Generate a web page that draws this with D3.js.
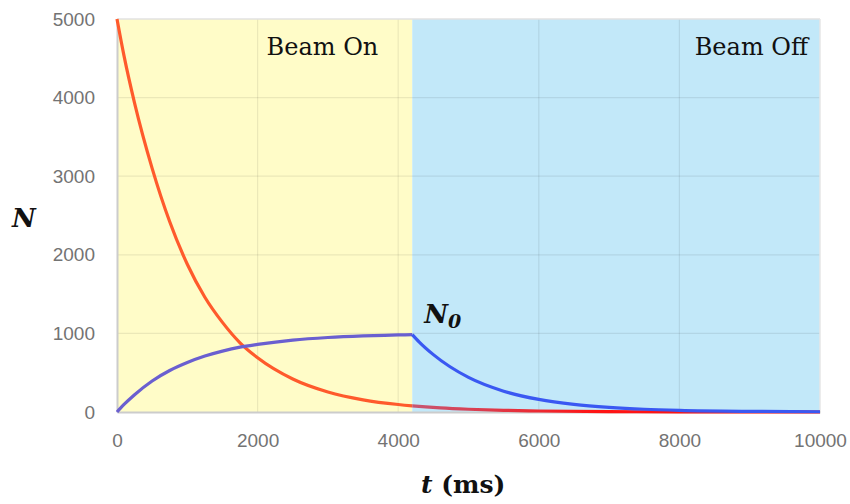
<!DOCTYPE html>
<html>
<head>
    <title>Beam On / Beam Off</title>
    <script src="https://d3js.org/d3.v7.min.js"></script>
    <style>
        body, html {
            margin: 0;
            padding: 0;
            background: #fff;
        }
        .tick text {
            font-family: 'Liberation Sans', Arial, sans-serif;
            font-size: 19px;
            fill: #737373;
        }
        .region-label {
            font-family: 'DejaVu Serif', serif;
            font-size: 24px;
            fill: #111;
        }
        .math {
            font-family: 'DejaVu Serif', serif;
            font-weight: bold;
            fill: #111;
        }
    </style>
</head>
<body>
<script>
    // values
    const xTicks = [0, 2000, 4000, 6000, 8000, 10000];
    const yTicks = [0, 1000, 2000, 3000, 4000, 5000];
    const beamOffAt = 4200;

    // red curve (starts at 5000, decays all the way)
    const redT = [0, 100, 250, 500, 750, 1000, 1250, 1500, 1750, 2000, 2500, 3000, 3500, 4000, 4200,
                  4600, 5000, 5500, 6000, 7000, 8000, 9000, 10000];
    const redN = [5000, 4530, 3930, 3100, 2420, 1880, 1460, 1140, 880, 690, 420, 255, 155, 95, 78,
                  52, 35, 21, 13, 5, 2, 1, 0];

    // blue curve while the beam is on
    const blueOnT = [0, 50, 100, 250, 500, 750, 1000, 1250, 1500, 1750, 2000, 2500, 3000, 3500, 4000, 4200];
    const blueOnN = [0, 50, 96, 220, 395, 528, 630, 712, 775, 825, 860, 915, 948, 968, 980, 985];

    // blue curve after the beam is off
    const blueOffT = [4200, 4300, 4500, 5000, 5500, 6000, 6500, 7000, 7500, 8000, 9000, 10000];
    const blueOffN = [985, 890, 730, 440, 265, 160, 97, 59, 35, 21, 8, 3];

    const width = 850, height = 504;
    const margin = {top: 19, right: 30, bottom: 92, left: 117};

    const x = d3.scaleLinear().domain([0, 10000]).range([margin.left, width - margin.right]);
    const y = d3.scaleLinear().domain([0, 5000]).range([height - margin.bottom, margin.top]);

    const svg = d3.create("svg")
        .attr("width", width)
        .attr("height", height)
        .attr("viewBox", [0, 0, width, height]);

    const defs = svg.append("defs");
    defs.append("clipPath").attr("id", "clip-on")
        .append("rect")
        .attr("x", x(0) - 5).attr("y", 0)
        .attr("width", x(beamOffAt) - x(0) + 5).attr("height", height);
    defs.append("clipPath").attr("id", "clip-off")
        .append("rect")
        .attr("x", x(beamOffAt)).attr("y", 0)
        .attr("width", x(10000) - x(beamOffAt) + 5).attr("height", height);

    // red fades from a dull red into a bright red once the beam is off
    const grad = defs.append("linearGradient")
        .attr("id", "red-off")
        .attr("gradientUnits", "userSpaceOnUse")
        .attr("x1", x(beamOffAt)).attr("x2", x(6800))
        .attr("y1", 0).attr("y2", 0);
    grad.append("stop").attr("offset", 0).attr("stop-color", "#c65672");
    grad.append("stop").attr("offset", 1).attr("stop-color", "#ff1414");

    // background regions
    svg.append("rect")
        .attr("x", x(0)).attr("y", y(5000))
        .attr("width", x(beamOffAt) - x(0)).attr("height", y(0) - y(5000))
        .attr("fill", "#fffcc8");
    svg.append("rect")
        .attr("x", x(beamOffAt)).attr("y", y(5000))
        .attr("width", x(10000) - x(beamOffAt)).attr("height", y(0) - y(5000))
        .attr("fill", "#c2e8f9");

    // grid
    const grid = svg.append("g")
        .attr("stroke", "#000")
        .attr("stroke-opacity", 0.08)
        .attr("stroke-width", 1.2);
    grid.selectAll("line.h")
        .data(yTicks.filter(d => d > 0 && d < 5000))
        .join("line")
        .attr("class", "h")
        .attr("x1", x(0)).attr("x2", x(10000))
        .attr("y1", d => y(d)).attr("y2", d => y(d));
    grid.selectAll("line.v")
        .data(xTicks.filter(d => d > 0 && d < 10000))
        .join("line")
        .attr("class", "v")
        .attr("y1", y(0)).attr("y2", y(5000))
        .attr("x1", d => x(d)).attr("x2", d => x(d));

    // frame
    svg.append("line")
        .attr("x1", x(0)).attr("x2", x(10000))
        .attr("y1", y(5000)).attr("y2", y(5000))
        .attr("stroke", "#e2e2e2").attr("stroke-width", 1.5);
    svg.append("line")
        .attr("x1", x(10000)).attr("x2", x(10000))
        .attr("y1", y(5000)).attr("y2", y(0))
        .attr("stroke", "#e6e6e6").attr("stroke-width", 1.5);

    // axes
    const xAxis = svg.append("g")
        .attr("transform", `translate(0,${y(0)})`)
        .call(d3.axisBottom(x).tickValues(xTicks).tickSize(0).tickPadding(22).tickFormat(d3.format("d")));
    xAxis.select(".domain").attr("stroke", "#cccccc").attr("stroke-width", 2);

    const yAxis = svg.append("g")
        .attr("transform", `translate(${x(0)},0)`)
        .call(d3.axisLeft(y).tickValues(yTicks).tickSize(0).tickPadding(22).tickFormat(d3.format("d")));
    yAxis.select(".domain").attr("stroke", "#cccccc").attr("stroke-width", 2);

    // curves
    const line = d3.line()
        .x(d => x(d[0]))
        .y(d => y(d[1]))
        .curve(d3.curveMonotoneX);

    const red = d3.zip(redT, redN);
    const blueOn = d3.zip(blueOnT, blueOnN);
    const blueOff = d3.zip(blueOffT, blueOffN);

    const curves = svg.append("g")
        .attr("fill", "none")
        .attr("stroke-width", 3.2)
        .attr("stroke-linejoin", "round");

    curves.append("path")
        .attr("clip-path", "url(#clip-on)")
        .attr("d", line(red))
        .attr("stroke", "#ff5a2c");
    curves.append("path")
        .attr("clip-path", "url(#clip-off)")
        .attr("d", line(red))
        .attr("stroke", "url(#red-off)");

    curves.append("path")
        .attr("d", line(blueOn))
        .attr("stroke", "#6a5fd0");
    curves.append("path")
        .attr("d", line(blueOff))
        .attr("stroke", "#3a58f2");

    // labels
    svg.append("text")
        .attr("class", "region-label")
        .attr("x", x(2000) + 9)
        .attr("y", 55)
        .text("Beam On");
    svg.append("text")
        .attr("class", "region-label")
        .attr("x", x(10000) - 12)
        .attr("y", 55)
        .attr("text-anchor", "end")
        .text("Beam Off");

    svg.append("text")
        .attr("class", "math")
        .attr("x", 12)
        .attr("y", 227)
        .attr("font-size", 26)
        .attr("font-style", "italic")
        .text("N");

    const n0 = svg.append("text")
        .attr("class", "math")
        .attr("x", x(beamOffAt) + 12)
        .attr("y", 323)
        .attr("font-size", 26)
        .attr("font-style", "italic");
    n0.append("tspan").text("N");
    n0.append("tspan").attr("font-size", 19).attr("dy", 5).text("0");

    const tl = svg.append("text")
        .attr("class", "math")
        .attr("x", 421)
        .attr("y", 493)
        .attr("font-size", 25);
    tl.append("tspan").attr("font-style", "italic").text("t");
    tl.append("tspan").text(" (ms)");

    document.body.appendChild(svg.node());
</script>
</body>
</html>
